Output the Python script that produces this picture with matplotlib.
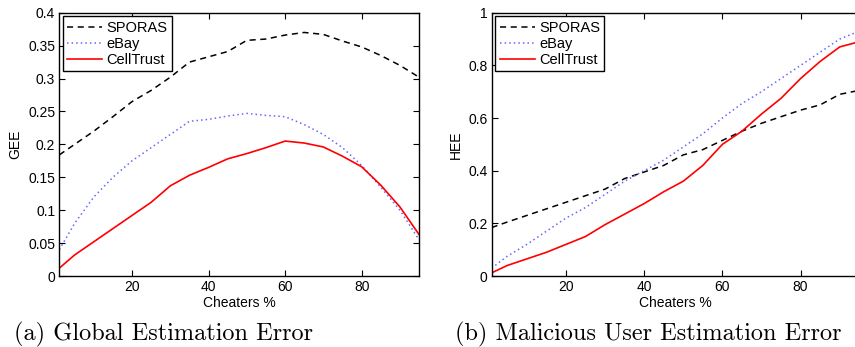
import numpy as np
import matplotlib; matplotlib.use("Agg")
import matplotlib.pyplot as plt
from matplotlib.ticker import FuncFormatter

plt.rcParams.update({"font.family": "Liberation Sans", "font.size": 10})

cheaters = [1, 5, 10, 15, 20, 25, 30, 35, 40, 45, 50, 55, 60, 65, 70, 75, 80, 85, 90, 95]

# (a) global estimation error
gee_sporas = [0.184, 0.200, 0.220, 0.242, 0.265, 0.282, 0.302, 0.325, 0.333, 0.341, 0.358, 0.360, 0.366, 0.370, 0.367, 0.357, 0.348, 0.335, 0.320, 0.302]
gee_ebay = [0.040, 0.080, 0.120, 0.150, 0.175, 0.195, 0.215, 0.235, 0.238, 0.243, 0.247, 0.244, 0.242, 0.230, 0.215, 0.195, 0.168, 0.135, 0.100, 0.055]
gee_celltrust = [0.012, 0.032, 0.052, 0.072, 0.092, 0.112, 0.137, 0.153, 0.165, 0.178, 0.186, 0.195, 0.205, 0.202, 0.196, 0.182, 0.166, 0.138, 0.105, 0.063]

# (b) malicious user estimation error
hee_sporas = [0.184, 0.205, 0.230, 0.255, 0.280, 0.305, 0.330, 0.370, 0.395, 0.420, 0.460, 0.480, 0.515, 0.550, 0.580, 0.605, 0.630, 0.650, 0.690, 0.705]
hee_ebay = [0.030, 0.075, 0.120, 0.170, 0.220, 0.260, 0.310, 0.360, 0.400, 0.440, 0.490, 0.540, 0.600, 0.655, 0.700, 0.750, 0.800, 0.850, 0.900, 0.930]
hee_celltrust = [0.012, 0.040, 0.065, 0.090, 0.120, 0.150, 0.195, 0.235, 0.275, 0.320, 0.360, 0.420, 0.500, 0.550, 0.615, 0.675, 0.750, 0.815, 0.870, 0.890]

labels = ["SPORAS", "eBay", "CellTrust"]
fmt = FuncFormatter(lambda v, p: f"{v:g}")

fig = plt.figure(figsize=(8.55, 3.47), dpi=100)
ax1 = fig.add_axes([0.0694, 0.2046, 0.4207, 0.7588])
ax2 = fig.add_axes([0.575, 0.2046, 0.430, 0.7588])

def draw(ax, ys, ylim, yticks, ylabel):
    ax.plot(cheaters, ys[0], ls=(0, (4, 3)), color="black", lw=1.1, label=labels[0])
    ax.plot(cheaters, ys[1], ls=(0, (1, 2)), color="#6666ff", lw=1.1, label=labels[1])
    ax.plot(cheaters, ys[2], ls="-", color="red", lw=1.2, label=labels[2])
    ax.set_xlim(1, 95); ax.set_ylim(*ylim)
    ax.set_xticks([20, 40, 60, 80]); ax.set_yticks(yticks)
    ax.yaxis.set_major_formatter(fmt)
    ax.tick_params(direction="in", top=True, right=True, length=4, width=0.8, labelsize=10, pad=3)
    for s in ax.spines.values(): s.set_linewidth(1.0)
    ax.set_xlabel("Cheaters %", labelpad=1)
    ax.set_ylabel(ylabel, labelpad=4)
    ax.legend(loc="upper left", fancybox=False, edgecolor="black", framealpha=1,
              handlelength=2.4, borderaxespad=0.25, borderpad=0.3, labelspacing=0.15,
              handletextpad=0.3, fontsize=10.5).get_frame().set_linewidth(1.0)

draw(ax1, [gee_sporas, gee_ebay, gee_celltrust], (0, 0.4), np.arange(0, 0.41, 0.05), "GEE")
draw(ax2, [hee_sporas, hee_ebay, hee_celltrust], (0, 1), np.arange(0, 1.01, 0.2), "HEE")
ax2.tick_params(right=False)

fig.text(0.191, 0.036, "(a) Global Estimation Error", family="cmr10", fontsize=17.5, ha="center", va="center")
fig.text(0.758, 0.036, "(b) Malicious User Estimation Error", family="cmr10", fontsize=17.5, ha="center", va="center")

fig.savefig("out.png", dpi=100)
